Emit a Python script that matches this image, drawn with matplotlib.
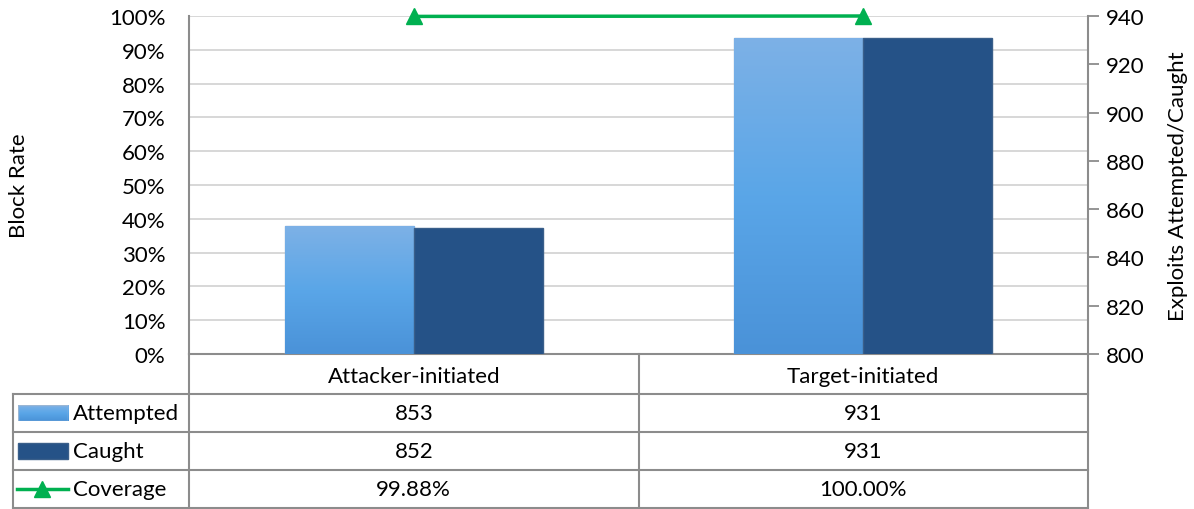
import numpy as np
import matplotlib.pyplot as plt
from matplotlib.lines import Line2D
from matplotlib.patches import Rectangle
from matplotlib.colors import LinearSegmentedColormap

plt.rcParams['font.family'] = ['Lato', 'DejaVu Sans']

# data
categories = ['Attacker-initiated', 'Target-initiated']
attempted = [853, 931]
caught = [852, 931]
coverage = [99.88, 100.00]

W, H = 1194, 510
fig = plt.figure(figsize=(W / 100, H / 100), dpi=100)


def fx(x):
    return x / W


def fy(y):
    return 1 - y / H


L, R, T, B = 189, 1088, 17, 355
ax = fig.add_axes([fx(L), fy(B), fx(R) - fx(L), fy(T) - fy(B)])
ax2 = ax.twinx()

grey = '#8c8c8c'
fs = 16

# left axis - block rate
ax.set_xlim(-0.5, 1.5)
ax.set_ylim(0, 100)
ax.set_yticks(np.arange(0, 101, 10))
ax.set_yticklabels([f'{v}%' for v in range(0, 101, 10)])
ax.grid(True, axis='y', color='#d4d4d4', linewidth=1.3)
ax.set_axisbelow(True)
ax.tick_params(axis='y', length=0, labelsize=fs, pad=17)
ax.tick_params(axis='x', length=0, labelbottom=False)
for s in ['top', 'right']:
    ax.spines[s].set_visible(False)
ax.spines['left'].set_color(grey)
ax.spines['bottom'].set_color(grey)
ax.spines['left'].set_linewidth(1.5)
ax.spines['bottom'].set_linewidth(1.5)
ax.set_ylabel('Block Rate', fontsize=fs, va='center')
ax.yaxis.set_label_coords(-(L - 19) / (R - L), 0.5)

# right axis - exploits
ax2.set_ylim(800, 940)
ax2.set_yticks(np.arange(800, 941, 20))
ax2.tick_params(axis='y', length=8, color=grey, width=1.3, labelsize=fs, pad=5)
for s in ['top', 'left', 'bottom']:
    ax2.spines[s].set_visible(False)
ax2.spines['right'].set_color(grey)
ax2.spines['right'].set_linewidth(1.5)
ax2.set_ylabel('Exploits Attempted/Caught', fontsize=fs, va='center')
ax2.yaxis.set_label_coords(1 + (1178 - R) / (R - L), 0.5)

# bars
x = np.arange(len(categories))
bw = 0.287
light = LinearSegmentedColormap.from_list('att', ['#4a92d8', '#5aa6e8', '#7db1e6'])
grad = np.linspace(0, 1, 256).reshape(-1, 1)
b1 = ax2.bar(x - bw / 2, attempted, bw, bottom=0, color='none',
             edgecolor='#9ab6d4', linewidth=1)
for rect in b1:
    x0 = rect.get_x()
    im = ax2.imshow(grad, cmap=light, aspect='auto', origin='lower',
                    extent=[x0, x0 + rect.get_width(), 800, rect.get_height()],
                    zorder=1)
    im.set_clip_path(rect)
ax2.bar(x + bw / 2, caught, bw, color='#255287', edgecolor='#3a5f8a',
        linewidth=1, zorder=2)
ax2.set_xlim(-0.5, 1.5)
ax2.set_ylim(800, 940)

# coverage line, drawn on top using the left axis scale
ax2.plot(x, coverage, transform=ax.transData, color='#00b050', linewidth=2.5,
         marker='^', markersize=12, clip_on=False, zorder=5)

# data table below
rows_y = [355, 395, 433, 471, 509]
tl = 13
lc = dict(color=grey, linewidth=1.5)
fig.add_artist(Line2D([fx(L), fx(L)], [fy(355), fy(509)], **lc))
fig.add_artist(Line2D([fx(R), fx(R)], [fy(355), fy(509)], **lc))
mid = (L + R) / 2
fig.add_artist(Line2D([fx(mid), fx(mid)], [fy(355), fy(509)], **lc))
fig.add_artist(Line2D([fx(tl), fx(tl)], [fy(395), fy(509)], **lc))
for y in rows_y[1:]:
    fig.add_artist(Line2D([fx(tl), fx(R)], [fy(y), fy(y)], **lc))

centers = [L + (R - L) * (i + 0.5) / 2 for i in range(2)]
for cx, cat in zip(centers, categories):
    fig.text(fx(cx), fy(377), cat, ha='center', va='center', fontsize=fs)

row_names = ['Attempted', 'Caught', 'Coverage']
row_vals = [[str(v) for v in attempted], [str(v) for v in caught],
            [f'{v:.2f}%' for v in coverage]]
for i, (name, vals) in enumerate(zip(row_names, row_vals)):
    yc = (rows_y[i + 1] + rows_y[i + 2]) / 2
    fig.text(fx(73), fy(yc), name, ha='left', va='center', fontsize=fs)
    for cx, v in zip(centers, vals):
        fig.text(fx(cx), fy(yc), v, ha='center', va='center', fontsize=fs)

# legend keys
ky = (395 + 433) / 2
kax = fig.add_axes([fx(18), fy(ky + 8), fx(50), fy(0) - fy(16)])
kax.imshow(grad, cmap=light, aspect='auto', origin='lower', extent=[0, 1, 0, 1])
kax.add_patch(Rectangle((0, 0), 1, 1, fill=False, edgecolor='#9ab6d4', linewidth=1))
kax.set_xlim(0, 1)
kax.set_ylim(0, 1)
kax.axis('off')
ky = (433 + 471) / 2
fig.add_artist(Rectangle((fx(18), fy(ky + 8)), fx(50), fy(0) - fy(16),
                         facecolor='#255287', edgecolor='#3a5f8a', linewidth=1))
ky = (471 + 509) / 2
fig.add_artist(Line2D([fx(17), fx(68)], [fy(ky), fy(ky)], color='#00b050',
                      linewidth=2.5))
fig.add_artist(Line2D([fx(42)], [fy(ky)], color='#00b050', marker='^',
                      markersize=12, linestyle='none'))

fig.savefig('out.png', dpi=100)
